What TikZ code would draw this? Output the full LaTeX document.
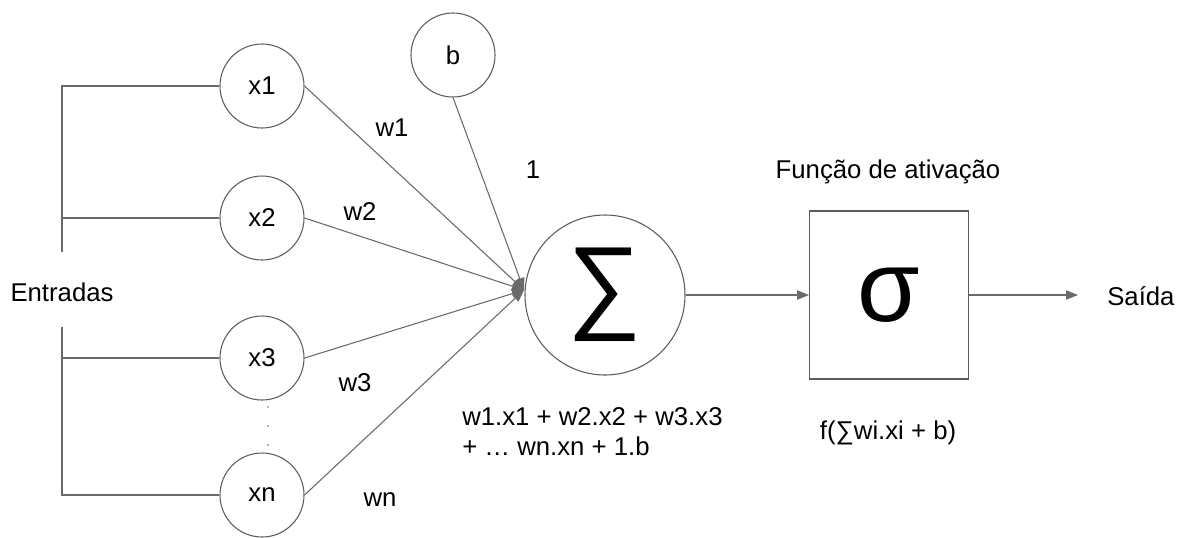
\documentclass[tikz,border=0pt]{standalone}
\usepackage{fontspec}
\setmainfont{Liberation Sans}
\usetikzlibrary{arrows.meta,positioning}

\definecolor{wiregray}{HTML}{6A6A6A}
\definecolor{rimgray}{HTML}{5C5C5C}

\begin{document}
\begin{tikzpicture}[x=0.75pt, y=-0.75pt,
  inputnode/.style={circle, draw=rimgray, line width=0.8pt, minimum size=63pt,
                    inner sep=0pt, font=\fontsize{19.3}{22}\selectfont},
  sumnode/.style={circle, draw=rimgray, line width=0.8pt, minimum size=120pt,
                  inner sep=0pt, font=\fontsize{78}{80}\selectfont},
  actbox/.style={rectangle, draw=rimgray, line width=1pt, minimum width=119pt,
                 minimum height=126pt, inner sep=0pt, font=\fontsize{76}{80}\selectfont},
  txt/.style={font=\fontsize{19.3}{22.5}\selectfont, inner sep=0pt},
  wire/.style={draw=wiregray, line width=0.8pt},
  arrow/.style={wire, -{Triangle[length=9pt, width=7pt]}}
]
  \useasboundingbox (0,0) rectangle (1181,537);

  % inputs and bias
  \node[inputnode] (x1) at (262,86) {x1};
  \node[inputnode] (x2) at (262,218) {x2};
  \node[inputnode] (x3) at (262,358) {x3};
  \node[inputnode] (xn) at (262,495) {xn};
  \node[inputnode] (b) at (453,55) {b};
  \foreach \y in {407,426,445}
    \fill[wiregray] (268,\y) circle (0.9);

  % summation and activation
  \node[sumnode] (sum) at (605,295) {∑};
  \node[actbox] (act) at (889,295) {σ};
  \coordinate (hub) at (524,290);

  % bracket on the left
  \node[txt] (entradas) at (62,292) {Entradas};
  \coordinate (upEnd) at (62,252);
  \coordinate (lowEnd) at (62,327);
  \draw[wire] (x1.west) -| (upEnd);
  \draw[wire] (x2.west) -- (x2.west -| upEnd);
  \draw[wire] (xn.west) -| (lowEnd);
  \draw[wire] (x3.west) -- (x3.west -| lowEnd);

  % weighted inputs
  \draw[arrow] (x1.east) -- (hub);
  \draw[arrow] (x2.east) -- (hub);
  \draw[arrow] (x3.east) -- (hub);
  \draw[arrow] (xn.east) -- (hub);
  \draw[arrow] (b.south) -- (hub);

  \node[txt] (w1) at (392,128) {w1};
  \node[txt] (w2) at (360,212) {w2};
  \node[txt] (w3) at (355,383) {w3};
  \node[txt] (wn) at (380,500) {wn};
  \node[txt] (one) at (533,170) {1};

  \node[txt, anchor=north west, align=left] (formula) at (462,407)
    {w1.x1 + w2.x2 + w3.x3\\+ … wn.xn + 1.b};

  % activation and output
  \node[txt] (title) at (888,172) {Função de ativação};
  \node[txt] (fx) at (888,433) {f(∑wi.xi + b)};
  \node[txt, anchor=west] (saida) at (1107,296) {Saída};
  \coordinate (outEnd) at (1078,295);
  \draw[arrow] (sum) -- (act);
  \draw[arrow] (act) -- (outEnd);
\end{tikzpicture}
\end{document}
